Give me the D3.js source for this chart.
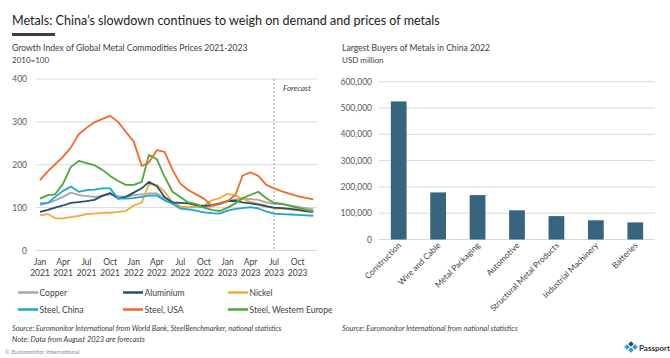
<!DOCTYPE html>
<html><head><meta charset="utf-8">
<script src="https://cdn.jsdelivr.net/npm/d3@7"></script>
<style>
html,body{margin:0;padding:0;background:#fff;}
svg{display:block;font-family:Lato,"Open Sans",sans-serif;}
</style></head>
<body><svg id="c" width="670" height="358"></svg>
<script>
// ---------- DATA ----------
const seriesNames = ["Copper","Aluminium","Nickel","Steel, China","Steel, USA","Steel, Western Europe"];
const copper     = [106,111,117,125,135,129,127,125,127,131,127,125,129,131,133,133,122,113,103,100,101,101,103,108,115,119,121,120,118,112,109,108,105,102,99,96];
const aluminium  = [90,95,100,105,111,113,115,118,128,134,121,125,135,145,160,150,125,112,111,110,106,104,106,110,115,116,112,110,107,103,100,99,97,95,92,90];
const nickel     = [82,85,75,75,78,81,85,86,88,88,90,92,105,112,155,153,137,113,101,101,103,105,117,122,132,128,121,113,109,105,98,98,96,94,92,90];
const steelChina = [110,111,125,139,149,137,141,142,145,145,121,121,122,125,128,128,117,109,98,96,93,89,87,86,93,97,99,101,98,91,86,85,84,83,82,81];
const steelUSA   = [164,185,201,219,240,271,286,299,307,314,300,277,254,197,205,234,230,188,156,141,131,121,105,108,115,130,175,182,174,153,145,138,132,127,123,119];
const steelWEur  = [121,129,131,156,195,209,204,199,188,174,162,153,153,160,223,213,172,137,125,112,108,100,95,92,100,110,122,130,137,122,111,109,104,100,95,91];
const seriesColors = ["#a6a6a6","#27506b","#f5a93a","#1aa7d2","#f26a23","#4ea737"];
const yTicksLine = [0,100,200,300,400];

const buyers = ["Construction","Wire and Cable","Metal Packaging","Automotive","Structural Metal Products","Industrial Machinery","Batteries"];
const buyerValues = [525000,179000,169000,111000,89000,73000,65000];
const yTicksBar = [0,100000,200000,300000,400000,500000,600000];

// ---------- SETUP ----------
const svg = d3.select("#c");
function fit(sel, w){ const cur = sel.node().getComputedTextLength(); const fs = parseFloat(sel.attr("font-size")); sel.attr("font-size", (fs*w/cur).toFixed(2)); return sel; }

// Title
fit(svg.append("text").attr("x",12).attr("y",25).attr("font-size",16).attr("fill","#222")
  .text("Metals: China’s slowdown continues to weigh on demand and prices of metals"), 428);
svg.append("rect").attr("x",12).attr("y",33).attr("width",43).attr("height",3).attr("fill","#404040");

// Subtitles
fit(svg.append("text").attr("x",12).attr("y",51).attr("font-size",9).attr("fill","#404040")
  .text("Growth Index of Global Metal Commodities Prices 2021-2023"), 236);
svg.append("text").attr("x",12).attr("y",63).attr("font-size",8).attr("fill","#404040").text("2010=100");
fit(svg.append("text").attr("x",342).attr("y",51).attr("font-size",9).attr("fill","#404040")
  .text("Largest Buyers of Metals in China 2022"), 148);
svg.append("text").attr("x",342).attr("y",63).attr("font-size",8).attr("fill","#404040").text("USD million");

// ---------- LINE CHART ----------
const months = d3.timeMonth.range(new Date(2021,0,1), new Date(2024,0,1));
const x = d3.scaleTime().domain([months[0], months[months.length-1]]).range([40, 313.3]);
const y = d3.scaleLinear().domain([0,400]).range([250.5, 79]);

const gL = svg.append("g");
gL.selectAll("line.grid").data(yTicksLine).join("line")
  .attr("x1",36).attr("x2",317).attr("y1",d=>y(d)).attr("y2",d=>y(d))
  .attr("stroke","#d9d9d9").attr("stroke-width",1);
gL.selectAll("text.yt").data(yTicksLine).join("text")
  .attr("x",27).attr("y",d=>y(d)+3).attr("text-anchor","end").attr("font-size",8.5).attr("fill","#595959").text(d=>d);

// forecast
const fx = x(new Date(2023,6,1));
gL.append("line").attr("x1",fx).attr("x2",fx).attr("y1",79).attr("y2",250.5)
  .attr("stroke","#8c8c8c").attr("stroke-dasharray","2,2").attr("stroke-width",0.8);
gL.append("text").attr("x",283).attr("y",91).attr("font-size",8).attr("font-style","italic").attr("fill","#404040").text("Forecast");

// x ticks
const qTicks = months.filter((d,i)=>i%3===0);
const fmtM = d3.timeFormat("%b"), fmtY = d3.timeFormat("%Y");
const xt = gL.selectAll("g.xt").data(qTicks).join("g").attr("transform",d=>`translate(${x(d)},0)`);
xt.append("text").attr("y",265).attr("text-anchor","middle").attr("font-size",8.5).attr("fill","#404040").text(d=>fmtM(d));
xt.append("text").attr("y",275.5).attr("text-anchor","middle").attr("font-size",8.5).attr("fill","#404040").text(d=>fmtY(d));

// lines
const seriesData = [copper, aluminium, nickel, steelChina, steelUSA, steelWEur];
const line = d3.line().x((d,i)=>x(months[i])).y(d=>y(d));
const drawOrder = [0,2,1,3,5,4];
drawOrder.forEach(k=>{
  gL.append("path").datum(seriesData[k]).attr("d",line).attr("fill","none")
    .attr("stroke",seriesColors[k]).attr("stroke-width",1.8).attr("stroke-linejoin","round");
});

// legend
const legPos = [[18,292.5],[123,292.5],[228,292.5],[18,309.5],[123,309.5],[228,309.5]];
seriesNames.forEach((n,k)=>{
  const [lx,ly] = legPos[k];
  svg.append("line").attr("x1",lx).attr("x2",lx+20).attr("y1",ly).attr("y2",ly)
    .attr("stroke",seriesColors[k]).attr("stroke-width",2.5);
  svg.append("text").attr("x",lx+21.5).attr("y",ly+3).attr("font-size",8.5).attr("fill","#404040").text(n);
});

// ---------- BAR CHART ----------
const xb = d3.scaleBand().domain(buyers).range([379,655]).paddingInner(0.6).paddingOuter(0.3);
const yb = d3.scaleLinear().domain([0,600000]).range([239.5, 81.7]);
const gB = svg.append("g");
gB.selectAll("line.g").data(yTicksBar).join("line")
  .attr("x1",379).attr("x2",655).attr("y1",d=>yb(d)).attr("y2",d=>yb(d))
  .attr("stroke","#d9d9d9").attr("stroke-width",1);
gB.selectAll("text.yt").data(yTicksBar).join("text")
  .attr("x",372).attr("y",d=>yb(d)+3).attr("text-anchor","end").attr("font-size",8.5).attr("fill","#595959")
  .text(d=>d3.format(",")(d));
gB.selectAll("rect").data(buyers).join("rect")
  .attr("x",d=>xb(d)).attr("width",xb.bandwidth())
  .attr("y",(d,i)=>yb(buyerValues[i])).attr("height",(d,i)=>yb(0)-yb(buyerValues[i]))
  .attr("fill","#376580");
gB.selectAll("text.xl").data(buyers).join("text")
  .attr("transform",d=>`translate(${xb(d)+xb.bandwidth()/2+3},246) rotate(-45)`)
  .attr("text-anchor","end").attr("font-size",8.3).attr("fill","#404040").text(d=>d);

// ---------- FOOTER ----------
fit(svg.append("text").attr("x",12).attr("y",331).attr("font-size",7.5).attr("font-style","italic").attr("fill","#404040")
  .text("Source: Euromonitor International from World Bank, SteelBenchmarker, national statistics"), 270);
fit(svg.append("text").attr("x",12).attr("y",342).attr("font-size",7.5).attr("font-style","italic").attr("fill","#404040")
  .text("Note: Data from August 2023 are forecasts"), 133);
fit(svg.append("text").attr("x",342).attr("y",331).attr("font-size",7.5).attr("font-style","italic").attr("fill","#404040")
  .text("Source: Euromonitor International from national statistics"), 176);
svg.append("text").attr("x",5).attr("y",354).attr("font-size",6).attr("fill","#8c8c8c").text("© Euromonitor International");

// Passport logo
const lg = svg.append("g").attr("transform","translate(625,348)");
[[0,-3,"#1aa7d2"],[4,-6,"#27506b"],[4,0,"#4a90c0"],[8,-3,"#1aa7d2"]].forEach(([dx,dy,c])=>{
  lg.append("rect").attr("x",dx).attr("y",dy).attr("width",4).attr("height",4).attr("fill",c).attr("transform",`rotate(45 ${dx+2} ${dy+2})`);
});
svg.append("text").attr("x",639).attr("y",351).attr("font-size",8).attr("font-weight","bold").attr("fill","#333").text("Passport");
</script>
</body></html>
